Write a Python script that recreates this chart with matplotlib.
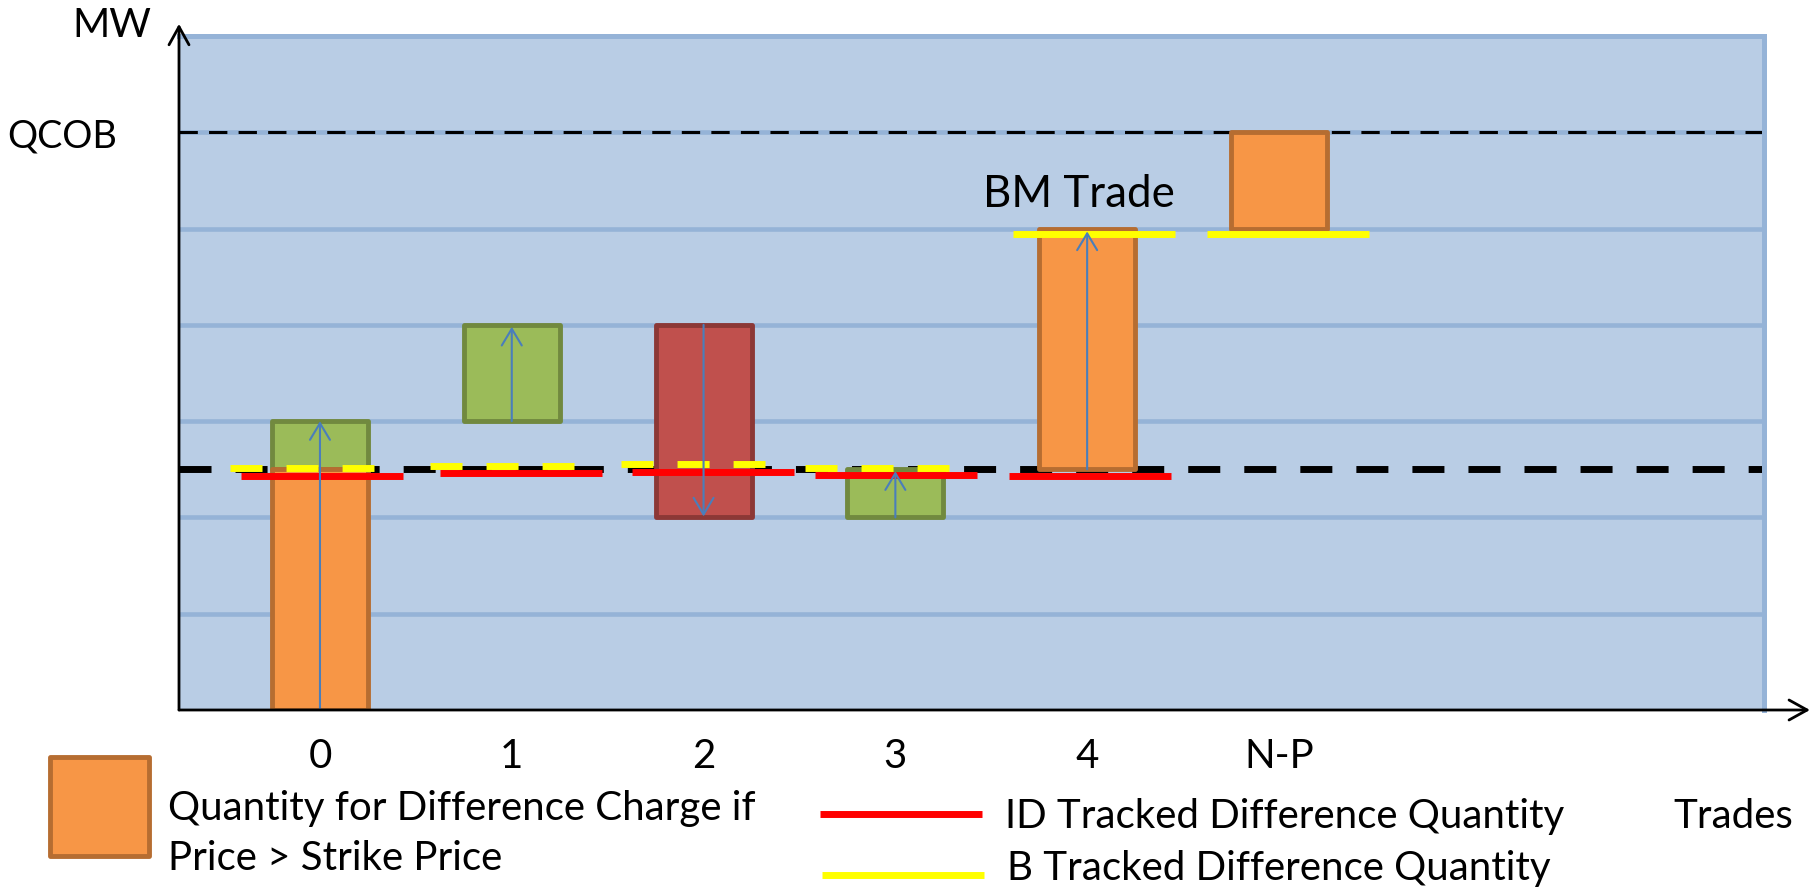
import matplotlib
matplotlib.use("Agg")
import matplotlib.pyplot as plt
from matplotlib.patches import Rectangle, FancyArrowPatch
from matplotlib.lines import Line2D

# ---------------- data ----------------
categories = ["0", "1", "2", "3", "4", "N-P"]
baseline_mw = 2.5
qcob_mw = 6.0

# Quantity for Difference Charge (orange)
orange_idx = [0, 4, 5]
orange_bottom = [0.0, 2.5, 5.0]
orange_top = [2.5, 5.0, 6.0]
# trades increasing position (green)
green_idx = [0, 1, 3]
green_bottom = [2.5, 3.0, 2.0]
green_top = [3.0, 4.0, 2.5]
# trades decreasing position (red)
red_idx = [2]
red_bottom = [2.0]
red_top = [4.0]
# trade direction arrows
arrow_idx = [0, 1, 2, 3, 4]
arrow_from = [0.0, 3.0, 4.0, 2.0, 2.5]
arrow_to = [3.0, 3.98, 2.01, 2.48, 4.97]
# ID tracked difference quantity (red lines)
id_idx = [0, 1, 2, 3, 4]
id_tracked = [2.43, 2.46, 2.47, 2.44, 2.43]
# B tracked difference quantity (yellow lines)
b_idx = [0, 1, 2, 3, 4, 5]
b_tracked = [2.51, 2.53, 2.55, 2.51, 4.94, 4.94]

# ---------------- layout / style ----------------
W, H, DPI = 1812, 895, 100
FONT = ["Lato", "DejaVu Sans"]
BLUE_BG = "#B9CDE5"
BLUE_LINE = "#95B3D7"
ORANGE, ORANGE_E = "#F79646", "#B66D31"
GREEN, GREEN_E = "#9BBB59", "#71893F"
RED, RED_E = "#C0504D", "#8C3836"
ARROW_C = "#4A7EBB"
BAR_W = 0.5
SEG_LEN = 0.845
DASH_LEN = 0.751
id_off = [-0.412, -0.374, -0.373, -0.419, -0.408]
b_off = [-0.469, -0.426, -0.431, -0.471, -0.387, -0.375]
b_dashed = [True, True, True, True, False, False]
LW_THICK = 5.0
DASHES = (4.61, 3.46)

plt.rcParams["font.family"] = FONT

fig = plt.figure(figsize=(W / DPI, H / DPI), dpi=DPI)
ax_l, ax_r, ax_t, ax_b = 179, 1764, 37, 711
ax = fig.add_axes([ax_l / W, 1 - ax_b / H, (ax_r - ax_l) / W, (ax_b - ax_t) / H])


def fx(x):
    return x / W


def fy(y):
    return 1 - y / H


def px_to_pt(p):
    return p * 72.0 / DPI


renderer = fig.canvas.get_renderer()


def fit_size(txt, target_px):
    probe = fig.text(0, 0, txt, fontsize=20)
    w = probe.get_window_extent(renderer).width
    probe.remove()
    return 20 * target_px / w


FS = fit_size("ID Tracked Difference Quantity", 562)
FS_BM = fit_size("BM Trade", 192)
FS_Q = min(FS, fit_size("QCOB", 110))

ax.set_facecolor(BLUE_BG)
ax.set_xlim(-0.735, 7.529)
ax.set_ylim(0, 7)

# grid / frame
ax.set_yticks(range(1, 8))
ax.set_yticklabels([""] * 5 + ["QCOB", ""], fontsize=FS_Q)
ax.grid(axis="y", color=BLUE_LINE, lw=3.3, zorder=0)
ax.set_axisbelow(True)
ax.tick_params(axis="y", length=0, pad=px_to_pt(62))
ax.set_xticks(range(len(categories)))
ax.set_xticklabels(categories, fontsize=FS)
ax.tick_params(axis="x", length=0, pad=px_to_pt(57))
for lab in ax.get_xticklabels():
    lab.set_va("baseline")
for s in ("top", "right"):
    ax.spines[s].set_color(BLUE_LINE)
    ax.spines[s].set_linewidth(3.6)
for s in ("left", "bottom"):
    ax.spines[s].set_visible(False)

ax.set_ylabel("MW", rotation=0, fontsize=FS, ha="center", va="baseline")
ax.yaxis.set_label_coords(-0.0423, 1.0)
ax.set_xlabel("Trades", fontsize=FS, ha="left", va="baseline")
ax.xaxis.set_label_coords(0.9426, -0.1736)

# reference lines
ax.axhline(baseline_mw, color="black", lw=LW_THICK, dashes=DASHES, zorder=1)
ax.axhline(qcob_mw, color="black", lw=2.2, dashes=(6, 3.67), zorder=1)


# bars
def draw_bars(idx, bottom, top, fc, ec, z):
    bars = ax.bar(idx, [t - b for b, t in zip(bottom, top)], bottom=bottom,
                  width=BAR_W, color=fc, edgecolor=ec, linewidth=3.5, zorder=z)
    for p in bars:
        p.set_joinstyle("round")


draw_bars(green_idx, green_bottom, green_top, GREEN, GREEN_E, 2.0)
draw_bars(red_idx, red_bottom, red_top, RED, RED_E, 2.0)
draw_bars(orange_idx, orange_bottom, orange_top, ORANGE, ORANGE_E, 2.1)

# tracked quantities
for i, v, o in zip(id_idx, id_tracked, id_off):
    ax.plot([i + o, i + o + SEG_LEN], [v, v], color="#FF0000", lw=LW_THICK,
            solid_capstyle="butt", zorder=3)
for i, v, o, d in zip(b_idx, b_tracked, b_off, b_dashed):
    if d:
        ax.plot([i + o, i + o + DASH_LEN], [v, v], color="#FFFF00", lw=LW_THICK,
                dashes=DASHES, zorder=3.1)
    else:
        ax.plot([i + o, i + o + SEG_LEN], [v, v], color="#FFFF00", lw=LW_THICK,
                solid_capstyle="butt", zorder=3.1)

# arrows
for i, a, b in zip(arrow_idx, arrow_from, arrow_to):
    ax.add_artist(FancyArrowPatch((i, a), (i, b), arrowstyle="->,head_length=0.6,head_width=0.36",
                                  mutation_scale=20, lw=1.5, color=ARROW_C,
                                  shrinkA=0, shrinkB=0, zorder=4))

ax.text(4 - 0.043, 5.234, "BM Trade", fontsize=FS_BM, ha="center", va="baseline", zorder=5)

# axis arrows
for end in [(0, 1.018), (1.029, 0)]:
    ax.add_artist(FancyArrowPatch((0, 0), end, transform=ax.transAxes,
                                  arrowstyle="->,head_length=0.65,head_width=0.36",
                                  mutation_scale=20, lw=2.0, color="black",
                                  shrinkA=0, shrinkB=0, clip_on=False, zorder=6))

# legend (manual)
fig.patches.append(Rectangle((fx(50), fy(857)), fx(149) - fx(50), fy(758) - fy(857),
                             transform=fig.transFigure, facecolor=ORANGE,
                             edgecolor=ORANGE_E, lw=3.5, joinstyle="round"))
fig.text(fx(168), fy(820), "Quantity for Difference Charge if", fontsize=FS, va="baseline")
fig.text(fx(168), fy(870), "Price > Strike Price", fontsize=FS, va="baseline")
fig.lines.append(Line2D([fx(820), fx(982)], [fy(815), fy(815)], transform=fig.transFigure,
                        color="#FF0000", lw=LW_THICK, solid_capstyle="butt"))
fig.lines.append(Line2D([fx(822), fx(984)], [fy(876), fy(876)], transform=fig.transFigure,
                        color="#FFFF00", lw=LW_THICK, solid_capstyle="butt"))
fig.text(fx(1005), fy(828), "ID Tracked Difference Quantity", fontsize=FS, va="baseline")
fig.text(fx(1007), fy(880), "B Tracked Difference Quantity", fontsize=FS, va="baseline")

fig.savefig("out.png", dpi=DPI)
